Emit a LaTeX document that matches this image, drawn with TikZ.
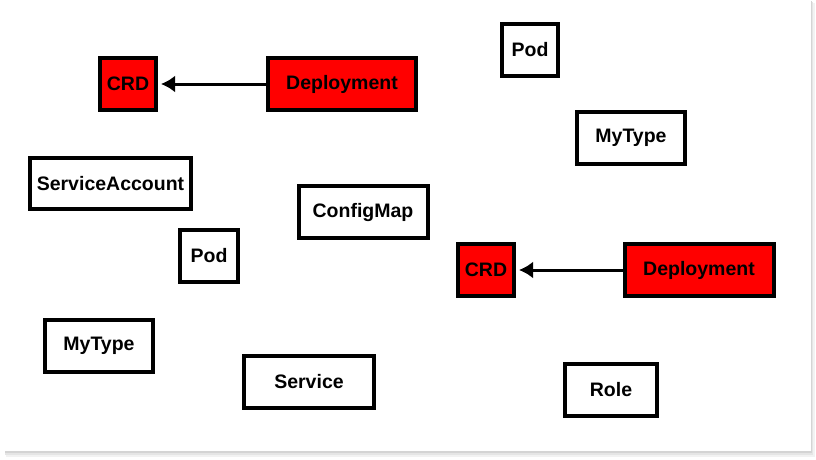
\documentclass[tikz,border=0pt]{standalone}
\usepackage{fontspec}
\setmainfont{Liberation Sans}
\usetikzlibrary{arrows.meta}
\usetikzlibrary{positioning}
\definecolor{crdred}{RGB}{255,0,0}
\tikzset{
	kind/.style={draw, line width=4pt, fill=white, minimum height=52pt, inner sep=0pt, font=\fontsize{19.5}{22}\selectfont\bfseries},
	crdkind/.style={kind, fill=crdred},
	ownerref/.style={line width=3pt, -{Latex[length=14pt,width=17pt]}, shorten >=3pt}
}

\begin{document}
\begin{tikzpicture}[x=1pt, y=-1pt]
				\useasboundingbox (0,0) rectangle (816,460);
				% card with shadow
				\fill[black!5] (6,3) rectangle (815,457);
				\fill[black!10] (5,2) rectangle (813,455);
				\fill[black!17] (5,1) rectangle (812,453);
				\fill[white] (4,0) rectangle (811,451);
		
				\node[crdkind, minimum width=56pt] (crdA) at (128,84) {CRD};
				\node[crdkind, minimum width=148pt] (deployA) at (342,84) {Deployment};
				\node[crdkind, minimum width=56pt] (crdB) at (486,270) {CRD};
				\node[crdkind, minimum width=149pt] (deployB) at (699,270) {Deployment};
		
				\node[kind, minimum width=56pt] (podA) at (530,50) {Pod};
				\node[kind, minimum width=108pt] (mytypeA) at (631,138) {MyType};
				\node[kind, minimum width=161pt, minimum height=51.5pt] (sa) at (110.5,183.5) {ServiceAccount};
				\node[kind, minimum width=129pt] (cm) at (363,212) {ConfigMap};
				\node[kind, minimum width=58pt] (podB) at (209,256) {Pod};
				\node[kind, minimum width=108pt] (mytypeB) at (99,346) {MyType};
				\node[kind, minimum width=130pt] (svc) at (309,382) {Service};
				\node[kind, minimum width=92pt] (role) at (611,390) {Role};
		
				\draw[ownerref] (deployA) -- (crdA);
				\draw[ownerref] (deployB) -- (crdB);
			\end{tikzpicture}
\end{document}
